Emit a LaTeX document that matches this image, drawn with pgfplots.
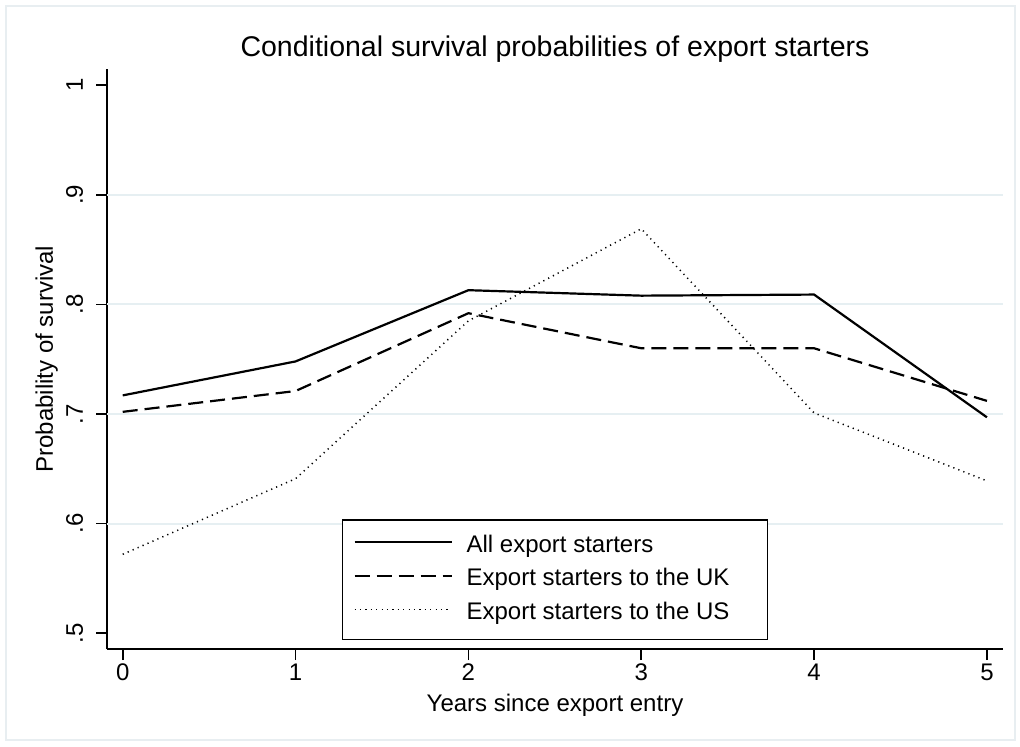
\documentclass[border=0pt]{standalone}
\usepackage{fontspec}
\setmainfont{Liberation Sans}
\usepackage{pgfplots}
\pgfplotsset{compat=1.18}
\definecolor{gridc}{RGB}{230,239,242}
\definecolor{framec}{RGB}{232,238,241}

\pgfplotstableread{
year all uk us
0 0.717 0.702 0.572
1 0.748 0.721 0.641
2 0.813 0.792 0.785
3 0.808 0.760 0.869
4 0.809 0.760 0.701
5 0.697 0.712 0.639
}\survival

\begin{document}
\begin{tikzpicture}
\begin{axis}[
  scale only axis, width=448pt, height=290pt,
  xmin=-0.091, xmax=5.093, ymin=0.4856, ymax=1.0148,
  axis x line*=bottom, axis y line*=left,
  axis line style={line width=0.8pt, black, -},
  tick align=outside, major tick length=5.5pt,
  tick style={line width=0.8pt, black},
  xtick={0,1,2,3,4,5}, xticklabels={0,1,2,3,4,5},
  ytick={0.5,0.6,0.7,0.8,0.9,1}, yticklabels={.5,.6,.7,.8,.9,1},
  extra y ticks={0.6,0.7,0.8,0.9}, extra y tick labels={},
  extra y tick style={grid=major, major tick length=0pt},
  major grid style={gridc, line width=1pt},
  ticklabel style={font=\fontsize{12}{14}\selectfont},
  xticklabel style={anchor=base, yshift=-10pt},
  yticklabel style={rotate=90, anchor=base, yshift=6.5pt},
  title={Conditional survival probabilities of export starters},
  title style={font=\fontsize{14.25}{17}\selectfont, at={(axis description cs:0.5,1)}, anchor=base, yshift=0.5pt},
  xlabel={Years since export entry},
  xlabel style={font=\fontsize{12}{14}\selectfont, at={(axis description cs:0.5,0)}, anchor=base, yshift=-31pt},
  ylabel={Probability of survival},
  ylabel style={font=\fontsize{12}{14}\selectfont, at={(axis description cs:0,0.5)}, anchor=base, yshift=27pt},
  legend style={at={(axis description cs:0.5,0)}, anchor=south, yshift=4.5pt,
    draw=black, line width=0.7pt, inner xsep=5.35pt, inner ysep=7.5pt,
    row sep=5.65pt, column sep=7pt, font=\fontsize{12}{14}\selectfont,
    nodes={inner sep=0pt, text height=8.6pt, text depth=2.5pt, anchor=base west}},
  legend cell align=left,
  legend image code/.code={\draw[#1] (0pt,5pt) -- (48.5pt,5pt);},
]
\addplot[black, line width=1.1pt] table[x=year, y=all] {\survival};
\addlegendentry{\makebox[145pt][l]{All export starters}}
\addplot[black, line width=1.1pt, dash pattern=on 7.5pt off 3.5pt] table[x=year, y=uk] {\survival};
\addlegendentry{\makebox[145pt][l]{Export starters to the UK}}
\addplot[black, line width=0.75pt, dash pattern=on 0.6pt off 2.1pt] table[x=year, y=us] {\survival};
\addlegendentry{\makebox[145pt][l]{Export starters to the US}}
\end{axis}
\draw[framec, line width=1pt] (-50.5pt,-45.5pt) rectangle (454pt,321.5pt);
\pgfresetboundingbox
\useasboundingbox (-53.5pt,-48.5pt) rectangle (456.5pt,324.5pt);
\end{tikzpicture}
\end{document}
